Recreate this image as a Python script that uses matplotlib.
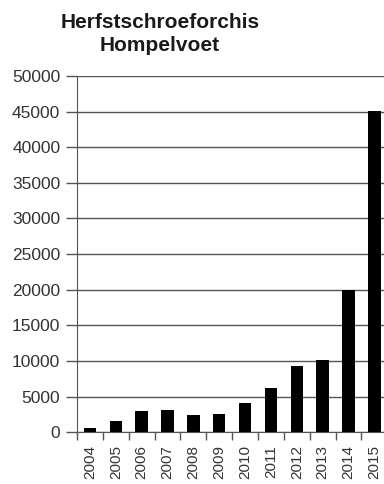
import matplotlib
matplotlib.use("Agg")
import matplotlib.pyplot as plt
import numpy as np

years = ["2004", "2005", "2006", "2007", "2008", "2009",
         "2010", "2011", "2012", "2013", "2014", "2015"]
counts = [650, 1570, 2950, 3100, 2400, 2620, 4050, 6200, 9250, 10200, 20000, 45100]
yticks = [0, 5000, 10000, 15000, 20000, 25000, 30000, 35000, 40000, 45000, 50000]

plt.rcParams["font.family"] = ["Liberation Sans", "DejaVu Sans"]

fig = plt.figure(figsize=(3.84, 4.84), dpi=100)
ax = fig.add_axes([0.2005, 0.107, 0.808, 0.736])

x = np.arange(len(years))
ax.bar(x, counts, width=0.48, color="black", zorder=3)

ax.set_xlim(-0.5, len(years) - 0.5)
ax.set_ylim(0, 50000)
ax.set_yticks(yticks)
ax.set_yticklabels([str(v) for v in yticks])
ax.yaxis.grid(True, color="#555555", linewidth=1.0, zorder=0)

# category labels centred, tick marks between categories
ax.set_xticks(x)
ax.set_xticklabels(years, rotation=90)
ax.set_xticks(np.arange(-0.5, len(years), 1.0), minor=True)
ax.tick_params(axis="x", which="major", length=0, pad=9, labelsize=11, labelcolor="#333333")
ax.tick_params(axis="x", which="minor", length=6, width=1, color="#555555", direction="out")
ax.tick_params(axis="y", length=8, width=1, color="#555555", labelsize=12.5,
               labelcolor="#333333", pad=4)

for side in ["top", "right"]:
    ax.spines[side].set_visible(False)
ax.spines["left"].set_color("#555555")
ax.spines["bottom"].set_color("#555555")

fig.text(0.417, 0.930, "Herfstschroeforchis\nHompelvoet", ha="center", va="center",
         fontsize=15, fontweight="bold", color="#1a1a1a", linespacing=1.3)

fig.savefig("out.png", dpi=100)
